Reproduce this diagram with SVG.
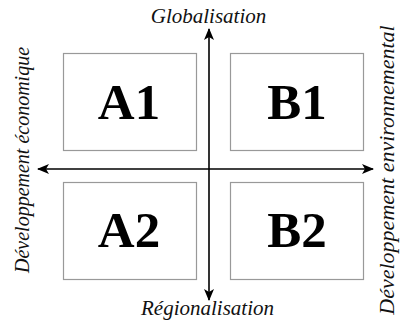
<svg xmlns="http://www.w3.org/2000/svg" width="401" height="324" viewBox="0 0 401 324">
<style>
.box{fill:#fff;stroke:#999;stroke-width:1.2}
.big{font-family:'Liberation Serif','DejaVu Serif',serif;font-weight:bold;font-size:51px;text-anchor:middle;fill:#000}
.lab{font-family:'Liberation Serif','DejaVu Serif',serif;font-style:italic;font-size:21px;text-anchor:middle;fill:#111}
.ax{stroke:#000;stroke-width:1.6;fill:none}
</style>
<defs>
<marker id="ah" viewBox="0 0 12 10" refX="11" refY="5" markerWidth="12" markerHeight="10" markerUnits="userSpaceOnUse" orient="auto-start-reverse">
<path d="M0,0 L12,5 L0,10 L3,5 Z" fill="#000"/>
</marker>
</defs>
<g id="A1"><rect class="box" x="63.5" y="53.5" width="133" height="97"/><text class="big" x="129" y="119">A1</text></g>
<g id="B1"><rect class="box" x="230.5" y="53.5" width="133" height="97"/><text class="big" x="297" y="119">B1</text></g>
<g id="A2"><rect class="box" x="63.5" y="182.5" width="133" height="97"/><text class="big" x="129" y="247">A2</text></g>
<g id="B2"><rect class="box" x="230.5" y="182.5" width="133" height="97"/><text class="big" x="297" y="247">B2</text></g>
<g id="connectors">
<line class="ax" x1="209" y1="300" x2="209" y2="29" marker-start="url(#ah)" marker-end="url(#ah)"/>
<line class="ax" x1="38" y1="169" x2="373" y2="169" marker-start="url(#ah)" marker-end="url(#ah)"/>
</g>
<g id="labels">
<text class="lab" x="208.5" y="23">Globalisation</text>
<text class="lab" x="207.5" y="315">Régionalisation</text>
<text class="lab" style="font-size:20px" transform="translate(29,160) rotate(-90)">Développement économique</text>
<text class="lab" style="font-size:22px" transform="translate(394,170) rotate(-90)">Développement environnemental</text>
</g>
</svg>
